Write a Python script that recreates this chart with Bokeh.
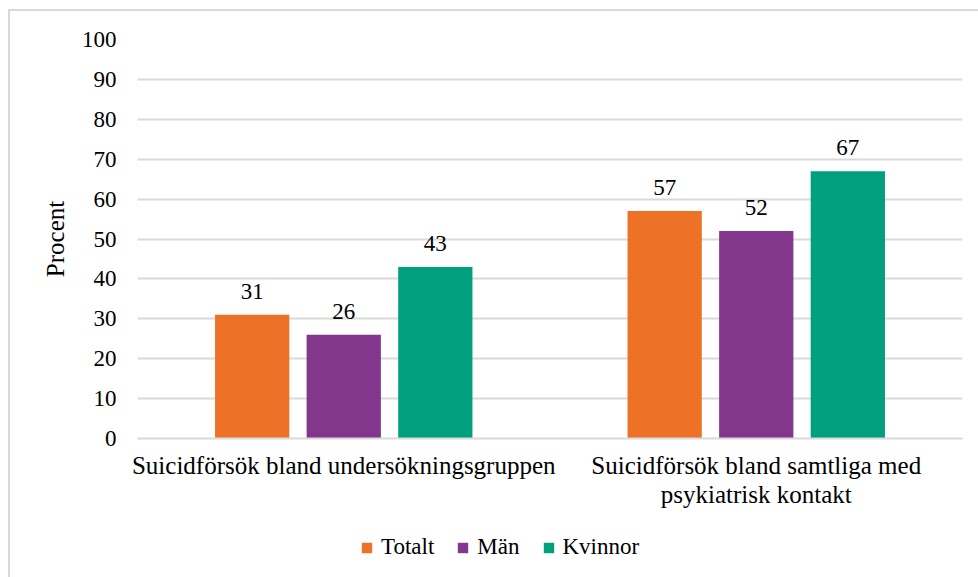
from bokeh.plotting import figure
from bokeh.layouts import column
from bokeh.models import ColumnDataSource, FactorRange, Legend, LegendItem, LabelSet, Range1d
from bokeh.transform import dodge
from bokeh.embed import file_html
from bokeh.resources import INLINE

categories = ["Suicidförsök bland undersökningsgruppen",
              "Suicidförsök bland samtliga med\npsykiatrisk kontakt"]
series = ["Totalt", "Män", "Kvinnor"]
totalt = [31, 57]
man = [26, 52]
kvinnor = [43, 67]
colors = ["#EE7128", "#82368C", "#009F7E"]
yticks = list(range(0, 101, 10))

FONT = "Liberation Serif"

src = ColumnDataSource(dict(cat=categories, Totalt=totalt, Man=man, Kvinnor=kvinnor,
                            lt=[str(v) for v in totalt], lm=[str(v) for v in man],
                            lk=[str(v) for v in kvinnor]))

p = figure(width=978, height=520, x_range=FactorRange(*categories), y_range=Range1d(0, 100),
           output_backend="svg", toolbar_location=None,
           min_border_left=137, min_border_right=16, min_border_top=39, min_border_bottom=82)
p.outline_line_color = None
p.border_fill_color = None
p.background_fill_color = None
p.styles = {"background": "white",
            "box-shadow": "inset 8px 9px 0 0 white, inset 10px 11px 0 0 #d9d9d9"}

offsets = [-0.222, 0.0, 0.222]
cols = ["Totalt", "Man", "Kvinnor"]
lbls = ["lt", "lm", "lk"]
for off, c, col, lb in zip(offsets, cols, colors, lbls):
    p.vbar(x=dodge("cat", off, range=p.x_range), top=c, width=0.18, source=src,
           fill_color=col, line_color=None)
    labels = LabelSet(x=dodge("cat", off, range=p.x_range), y=c, text=lb, source=src,
                      text_align="center", text_baseline="alphabetic", y_offset=16,
                      text_font=FONT, text_font_size="23px", text_color="#000000")
    p.add_layout(labels)

p.yaxis.ticker = yticks
p.yaxis.axis_line_color = None
p.yaxis.major_tick_line_color = None
p.yaxis.minor_tick_line_color = None
p.yaxis.major_label_text_font = FONT
p.yaxis.major_label_text_font_size = "23px"
p.yaxis.major_label_text_color = "#000000"
p.yaxis.major_label_standoff = 15
p.yaxis.axis_label = "Procent"
p.yaxis.axis_label_text_font = FONT
p.yaxis.axis_label_text_font_size = "25px"
p.yaxis.axis_label_text_font_style = "normal"
p.yaxis.axis_label_text_color = "#000000"
p.yaxis.axis_label_standoff = 10

p.xaxis.axis_line_color = "#d9d9d9"
p.xaxis.axis_line_width = 2
p.xaxis.major_tick_line_color = None
p.xaxis.minor_tick_line_color = None
p.xaxis.major_label_text_font = FONT
p.xaxis.major_label_text_font_size = "25px"
p.xaxis.major_label_text_color = "#000000"
p.xaxis.major_label_standoff = 7
p.xaxis.major_label_text_line_height = 1.1

p.xgrid.grid_line_color = None
p.ygrid.grid_line_color = "#d9d9d9"
p.ygrid.grid_line_width = 2

# legend strip below the chart (same data, bars fall outside its y range)
lf = figure(width=978, height=57, x_range=p.x_range, y_range=Range1d(1000, 1001),
            x_axis_type=None, y_axis_type=None, output_backend="svg", toolbar_location=None,
            min_border_left=0, min_border_right=0, min_border_top=0, min_border_bottom=0)
lf.outline_line_color = None
lf.border_fill_color = None
lf.background_fill_color = None
lf.grid.grid_line_color = None
lf.styles = {"background": "white",
             "box-shadow": "inset 8px 0 0 0 white, inset 10px 0 0 0 #d9d9d9"}
leg_renderers = [lf.vbar(x=dodge("cat", off, range=lf.x_range), top=c, width=0.18, source=src,
                         fill_color=col, line_color=None)
                 for off, c, col in zip(offsets, cols, colors)]

legend = Legend(items=[LegendItem(label=s, renderers=[r]) for s, r in zip(series, leg_renderers)],
                orientation="horizontal", location=(223, 17),
                label_text_font=FONT, label_text_font_size="23px", label_text_color="#000000",
                glyph_width=13, glyph_height=13, label_standoff=8, spacing=22,
                padding=0, margin=0, border_line_color=None, background_fill_alpha=0)
lf.add_layout(legend, "center")

open("out.html", "w").write(file_html(column(p, lf), INLINE))
